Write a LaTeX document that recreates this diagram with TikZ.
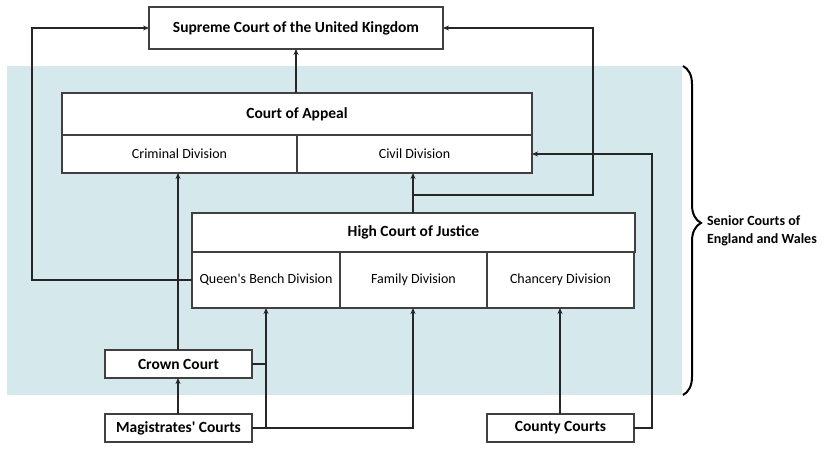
\documentclass[tikz,border=0pt]{standalone}
\usepackage{fontspec}
\setmainfont{Carlito}
\usetikzlibrary{arrows.meta,decorations.pathreplacing}
\definecolor{seniorbg}{RGB}{213,232,235}
\begin{document}
\begin{tikzpicture}[x=1pt,y=-1pt,thick,
        every node/.style={inner sep=2pt,outer sep=0pt},
        court/.style={draw=black!75,line width=1.2pt,fill=white,font=\fontsize{15.5}{18}\selectfont\bfseries},
        division/.style={draw=black!75,line width=1.2pt,fill=white,font=\fontsize{14}{16}\selectfont},
        link/.style={draw=black!85,line width=1.4pt},
        >={Stealth[length=6pt,width=5pt]}]
        \useasboundingbox (0,0) rectangle (830,460);
        \fill[seniorbg](7,66) rectangle (682,395);
        \node[court,minimum width=294pt,minimum height=42pt](sc) at (296,28) {Supreme Court of the United Kingdom};
        \node[court,minimum width=470pt,minimum height=42pt](ca) at (297,114) {Court of Appeal};
        \node[division,minimum width=235pt,minimum height=38pt](crim) at (179.5,154) {Criminal Division};
        \node[division,minimum width=235pt,minimum height=38pt](civ) at (414.5,154) {Civil Division};
        \node[court,minimum width=443pt,minimum height=39pt](hc) at (413.5,232.5) {High Court of Justice};
        \node[division,minimum width=148pt,minimum height=56pt](qb) at (266,280) {Queen\textquotesingle s Bench Division};
        \node[division,minimum width=147pt,minimum height=56pt](fam) at (413.5,280) {Family Division};
        \node[division,minimum width=147pt,minimum height=56pt](ch) at (560.5,280) {Chancery Division};
        \node[court,minimum width=147pt,minimum height=28pt](crown) at (178.5,364) {Crown Court};
        \node[court,minimum width=147pt,minimum height=28pt](mag) at (178.5,428) {Magistrates\textquotesingle\ Courts};
        \node[court,minimum width=147pt,minimum height=28pt](county) at (560.5,428) {County Courts};
        \coordinate (scin) at (296,49);
        \coordinate (crimin) at (178,173);
        \coordinate (crownin) at (178,378);
        \coordinate (magout) at (178,414);
        \coordinate (famin) at (413,308);
        \coordinate (chin) at (560,308);
        \coordinate (countyout) at (560,414);
        \coordinate (civin) at (413,173);
        \coordinate (hcout) at (413,213);
        \coordinate (hcjoin) at (413,195);
        \draw[link,->](scin|-ca.north)--(scin);
        \draw[link,->](qb.west)--++(-160,0)|-(sc.west);
        \draw[link,->](crimin|-crown.north)--(crimin);
        \draw[link](crown.east)--(crown.east-|qb.south);
        \draw[link,->](mag.east)-|(qb.south);
        \draw[link,->](mag.east)-|(famin);
        \draw[link,->](magout)--(crownin);
        \draw[link,->](countyout)--(chin);
        \draw[link,->](county.east)--++(18,0)|-(civ.east);
        \draw[link,->](hcout)--(civin);
        \draw[link,->](hcjoin)--++(180,0)|-(sc.east);
        \draw[line width=2pt,decorate,decoration={brace,amplitude=18pt,aspect=0.477}](683,66)--(683,395);
        \node[anchor=west,align=left,font=\fontsize{14}{18}\selectfont\bfseries](senior) at (705,231) {Senior Courts of\\England and Wales};
     \end{tikzpicture}
\end{document}
